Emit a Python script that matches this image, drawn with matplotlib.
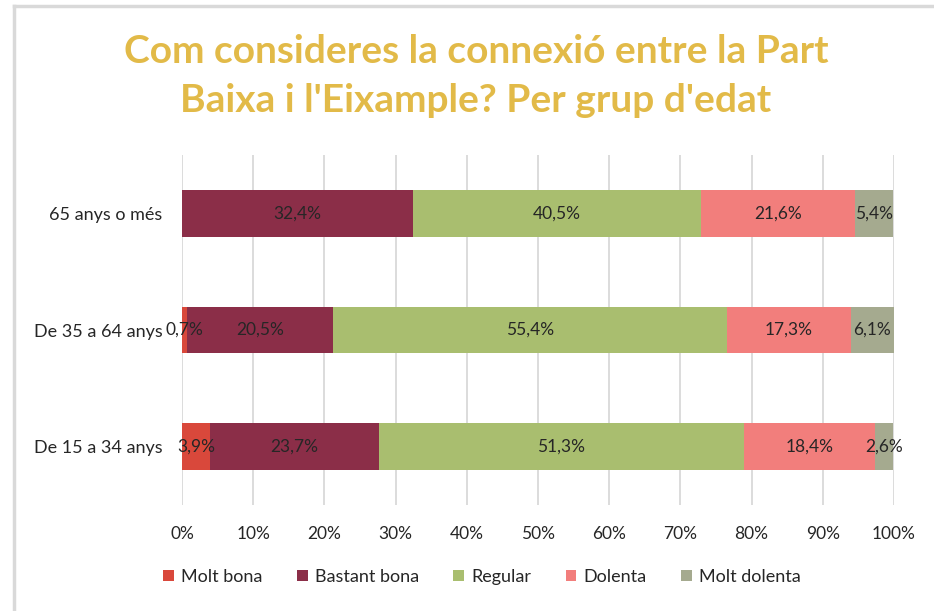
import matplotlib.pyplot as plt
import matplotlib.lines as mlines
import numpy as np

# data
groups = ["65 anys o més", "De 35 a 64 anys", "De 15 a 34 anys"]
answers = ["Molt bona", "Bastant bona", "Regular", "Dolenta", "Molt dolenta"]
molt_bona = [0.0, 0.7, 3.9]
bastant_bona = [32.4, 20.5, 23.7]
regular = [40.5, 55.4, 51.3]
dolenta = [21.6, 17.3, 18.4]
molt_dolenta = [5.4, 6.1, 2.6]
colors = ["#D9483B", "#8B2E48", "#A9BE6F", "#F27E7C", "#A5AA8F"]
xticks = np.arange(0, 101, 10)

title = "Com consideres la connexió entre la Part\nBaixa i l'Eixample? Per grup d'edat"

plt.rcParams["font.family"] = ["Lato", "DejaVu Sans"]
text_col = "#262626"

fig = plt.figure(figsize=(9.34, 6.11), dpi=100)
ax = fig.add_axes([182 / 934, 1 - 505 / 611, 712 / 934, 350 / 611])

# outer frame of the chart
fig.add_artist(mlines.Line2D([13.5 / 934, 13.5 / 934], [0, 1 - 5.5 / 611],
                             transform=fig.transFigure, color="#D9D9D9", lw=2.5))
fig.add_artist(mlines.Line2D([13.5 / 934, 1], [1 - 5.5 / 611, 1 - 5.5 / 611],
                             transform=fig.transFigure, color="#D9D9D9", lw=2.5))

series = [molt_bona, bastant_bona, regular, dolenta, molt_dolenta]
y = np.arange(len(groups))
left = np.zeros(len(groups))
for name, vals, c in zip(answers, series, colors):
    vals = np.array(vals)
    ax.barh(y, vals, left=left, height=0.4, color=c, label=name, zorder=2)
    for yi, l, v in zip(y, left, vals):
        if v > 0:
            ax.text(l + v / 2, yi, f"{v:.1f}%".replace(".", ","),
                    ha="center", va="center", fontsize=12.5, color=text_col, zorder=3)
    left += vals

ax.set_xlim(0, 100)
ax.set_ylim(2.5, -0.5)
ax.set_xticks(xticks)
ax.set_xticklabels([f"{t}%" for t in xticks], fontsize=12.5, color=text_col)
ax.set_yticks(y)
ax.set_yticklabels(groups, fontsize=13, color=text_col)
ax.tick_params(length=0, axis="x", pad=15)
ax.tick_params(length=0, axis="y", pad=14)
ax.grid(axis="x", color="#D9D9D9", lw=1.3, zorder=0)
for s in ax.spines.values():
    s.set_visible(False)

fig.text(476 / 934, 1 - 76 / 611, title, ha="center", va="center",
         fontsize=28, fontweight="bold", color="#E2BA48", linespacing=1.45)

leg = ax.legend(loc="center", bbox_to_anchor=(482 / 934, 1 - 577 / 611),
                bbox_transform=fig.transFigure, ncol=5, frameon=False,
                fontsize=13, handlelength=0.6, handleheight=0.6,
                handletextpad=0.4, columnspacing=1.9)
for t in leg.get_texts():
    t.set_color(text_col)

fig.savefig("out.png", dpi=100, facecolor="white")
